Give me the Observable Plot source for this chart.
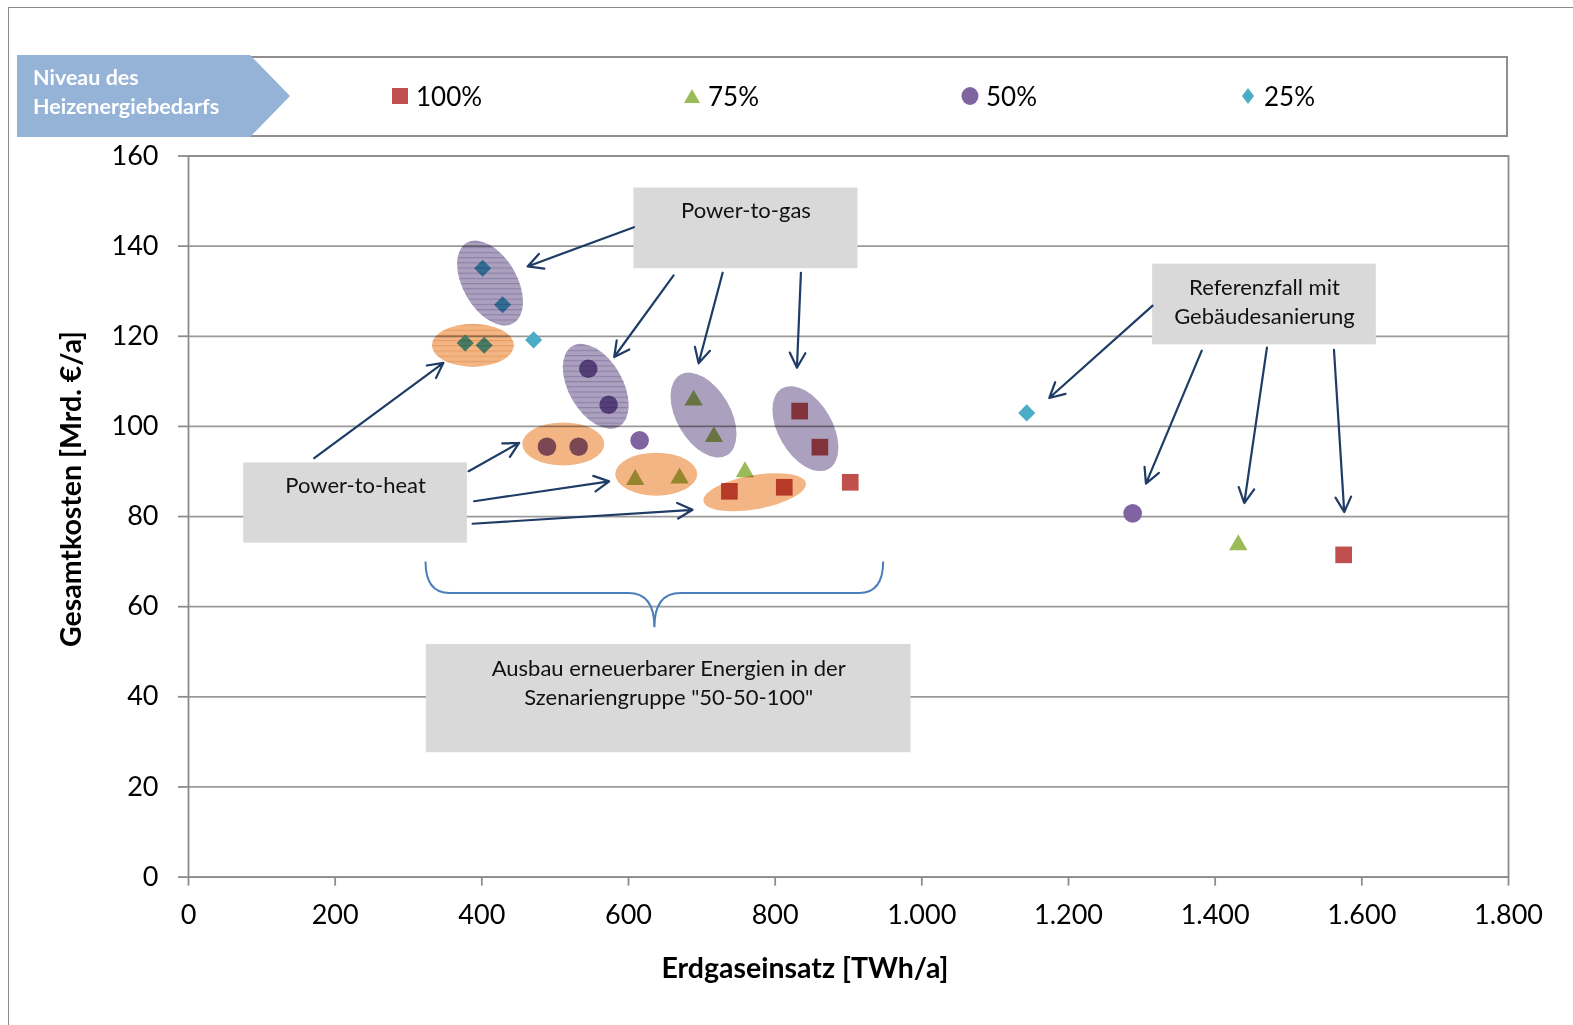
<!DOCTYPE html>
<html><head><meta charset="utf-8">
<script src="https://cdn.jsdelivr.net/npm/d3@7"></script>
<script src="https://cdn.jsdelivr.net/npm/@observablehq/plot@0.6"></script>
<style>
html,body{margin:0;padding:0;background:#fff;}
body{width:1573px;height:1025px;overflow:hidden;position:relative;font-family:Lato,"Open Sans",sans-serif;color:#000;}
#frame{position:absolute;left:8px;top:7px;width:1620px;height:1100px;border:1px solid #8a8a8a;box-sizing:border-box;pointer-events:none;}
#legend{position:absolute;left:0;top:0;width:1573px;height:140px;}
#legbox{position:absolute;left:249px;top:56px;width:1259px;height:81px;border:2px solid #8e8e8e;box-sizing:border-box;}
#legshape{position:absolute;left:0;top:0;}
#legtitle{position:absolute;left:33px;top:63px;color:#fff;font-weight:bold;font-size:21.5px;line-height:29px;}
.item{position:absolute;top:80px;height:32px;display:flex;align-items:center;font-size:26px;white-space:nowrap;}
.item svg{margin-right:7px;}
#chart{position:absolute;left:0;top:140px;}
.title{position:absolute;font-weight:bold;font-size:28.5px;white-space:nowrap;}
</style></head>
<body>
<div id="legend">
  <div id="legbox"></div>
  <svg id="legshape" width="300" height="140"><polygon points="17,55 250,55 290,96 250,137 17,137" fill="#95B3D7"/></svg>
  <div id="legtitle">Niveau des<br>Heizenergiebedarfs</div>
</div>
<div id="chart"></div>
<div class="title" id="xtitle" style="left:805px;top:967px;transform:translate(-50%,-50%);">Erdgaseinsatz [TWh/a]</div>
<div class="title" id="ytitle" style="left:70px;top:489px;transform:translate(-50%,-50%) rotate(-90deg);">Gesamtkosten [Mrd. €/a]</div>
<div id="frame"></div>
<script>
// ---- data ----
const levels = ["100%", "75%", "50%", "25%"];
const gas100 = [737.6, 812.4, 902.4, 833.4, 861.0, 1575.2];
const cost100 = [85.6, 86.5, 87.6, 103.4, 95.4, 71.5];
const gas75 = [609.2, 669.7, 758.8, 688.8, 716.5, 1431.5];
const cost75 = [88.2, 88.5, 89.9, 105.8, 97.7, 73.7];
const gas50 = [488.8, 532.0, 615.2, 545.1, 572.9, 1287.5];
const cost50 = [95.5, 95.5, 96.9, 112.8, 104.8, 80.7];
const gas25 = [377.3, 403.2, 470.6, 401.1, 428.3, 1143.0];
const cost25 = [118.5, 118.0, 119.2, 135.1, 127.0, 103.0];

const xTicks = [0, 200, 400, 600, 800, 1000, 1200, 1400, 1600, 1800];
const xTickLabels = ["0", "200", "400", "600", "800", "1.000", "1.200", "1.400", "1.600", "1.800"];
const yTicks = [0, 20, 40, 60, 80, 100, 120, 140, 160];
const yTickLabels = ["0", "20", "40", "60", "80", "100", "120", "140", "160"];

// annotation boxes (data units)
const boxText = ["Power-to-gas", "Power-to-heat", "Referenzfall mit\nGebäudesanierung", "Ausbau erneuerbarer Energien in der\nSzenariengruppe \"50-50-100\""];
const boxX1 = [607.4, 75.3, 1314.7, 324.3];
const boxX2 = [912.9, 380.3, 1619.8, 985.3];
const boxY1 = [135.0, 74.1, 118.1, 27.6];
const boxY2 = [152.9, 91.9, 136.0, 51.6];
const boxTextY = [148.3, 87.3, 127.9, 43.5];

// arrows (data units)
const arrowX1 = [607.4, 661.5, 728.4, 835.1, 171.4, 382.0, 389.6, 387.4, 1314.7, 1381.7, 1470.6, 1562.0];
const arrowY1 = [144.2, 133.5, 134.1, 134.1, 92.95, 90.06, 83.4, 78.4, 126.8, 116.8, 117.5, 117.0];
const arrowX2 = [462.4, 580.5, 695.6, 829.7, 347.6, 450.9, 573.7, 687.4, 1173.7, 1305.6, 1439.7, 1576.0];
const arrowY2 = [135.5, 115.4, 114.0, 113.0, 114.1, 96.36, 87.8, 81.5, 106.3, 87.3, 83.0, 81.0];

// grouping ellipses (centres, data units)
const ellipseX = [411.9, 388.5, 556.0, 511.7, 703.0, 638.5, 841.9, 772.7];
const ellipseY = [131.7, 117.9, 108.8, 96.0, 102.4, 89.3, 99.4, 85.3];
const ellipseKind = ["gasH", "heatH", "gasH", "heat", "gas", "heat", "gas", "heatT"];

// brace (data units)
const braceX = [323.9, 636.0, 947.9];
const braceY = [69.9, 62.9, 55.3];

// ---- styles ----
const colors = {"100%": "#C0504D", "75%": "#9BBB59", "50%": "#8064A2", "25%": "#4BACC6"};
const symbols = {"100%": "square", "75%": "triangle", "50%": "circle", "25%": "diamond2"};
const radii = {"100%": 9.4, "75%": 6.8, "50%": 9.3, "25%": 7.7};

const gasArr = {"100%": gas100, "75%": gas75, "50%": gas50, "25%": gas25};
const costArr = {"100%": cost100, "75%": cost75, "50%": cost50, "25%": cost25};
const points = levels.flatMap(l => gasArr[l].map((g, i) => ({level: l, gas: g, cost: costArr[l][i]})));
const boxes = boxText.map((t, i) => ({text: t, x1: boxX1[i], x2: boxX2[i], y1: boxY1[i], y2: boxY2[i], ty: boxTextY[i]}));
const arrows = arrowX1.map((x, i) => ({x1: x, y1: arrowY1[i], x2: arrowX2[i], y2: arrowY2[i]}));

// ---- legend ----
const legendPos = {"100%": 400, "75%": 692, "50%": 970, "25%": 1248};
const legend = document.getElementById("legend");
function markerSvg(l) {
  const c = colors[l];
  let shape;
  if (l === "100%") shape = `<rect x="1" y="2" width="16" height="16" fill="${c}"/>`;
  else if (l === "75%") shape = `<polygon points="9,3 17,17 1,17" fill="${c}"/>`;
  else if (l === "50%") shape = `<ellipse cx="9" cy="10" rx="8.5" ry="9" fill="${c}"/>`;
  else shape = `<polygon points="9,2 15,10 9,18 3,10" fill="${c}"/>`;
  return `<svg width="18" height="20">${shape}</svg>`;
}
levels.forEach(l => {
  const d = document.createElement("div");
  d.className = "item";
  d.style.left = (legendPos[l] - 9) + "px";
  d.innerHTML = markerSvg(l) + `<span>${l}</span>`;
  legend.appendChild(d);
});

// ---- custom marks ----
const ellipseGeom = {
  gasH: {a: 46.5, b: 27, angle: 60, fill: "#ABA0BE", stripe: "#8E80A8"},
  gas: {a: 46.5, b: 27, angle: 60, fill: "#ABA0BE", stripe: null},
  heatH: {a: 41, b: 21.5, angle: 0, fill: "#F3B583", stripe: "#E89C62"},
  heat: {a: 41, b: 21.5, angle: 0, fill: "#F3B583", stripe: null},
  heatT: {a: 52, b: 17, angle: -10, fill: "#F3B583", stripe: null}
};
function ellipseMark(index, scales) {
  const g = d3.create("svg:g");
  const defs = g.append("defs");
  ellipseX.forEach((ex, i) => {
    const geo = ellipseGeom[ellipseKind[i]];
    const cx = scales.x(ex), cy = scales.y(ellipseY[i]);
    let fill = geo.fill;
    if (geo.stripe) {
      const id = "hatch" + i;
      const p = defs.append("pattern").attr("id", id).attr("patternUnits", "userSpaceOnUse")
        .attr("width", 10).attr("height", 5.2).attr("patternTransform", `rotate(${-geo.angle})`);
      p.append("rect").attr("width", 10).attr("height", 5.2).attr("fill", geo.fill);
      p.append("rect").attr("width", 10).attr("height", 1.1).attr("fill", geo.stripe);
      fill = `url(#${id})`;
    }
    g.append("ellipse").attr("cx", 0).attr("cy", 0).attr("rx", geo.a).attr("ry", geo.b)
      .attr("transform", `translate(${cx},${cy}) rotate(${geo.angle})`)
      .attr("fill", fill).style("mix-blend-mode", "multiply");
  });
  return g.node();
}
function braceMark(index, scales) {
  const xL = scales.x(braceX[0]), xC = scales.x(braceX[1]), xR = scales.x(braceX[2]);
  const yT = scales.y(braceY[0]), yL = scales.y(braceY[1]), yD = scales.y(braceY[2]);
  const path = `M${xL},${yT} Q${xL},${yL} ${xL + 24},${yL} L${xC - 26},${yL} Q${xC},${yL} ${xC},${yD} Q${xC},${yL} ${xC + 26},${yL} L${xR - 24},${yL} Q${xR},${yL} ${xR},${yT}`;
  const g = d3.create("svg:g");
  g.append("path").attr("d", path).attr("fill", "none").attr("stroke", "#4A7EBB").attr("stroke-width", 2);
  return g.node();
}

const plot = Plot.plot({
  width: 1573, height: 885,
  marginTop: 15.5, marginLeft: 188, marginRight: 65, marginBottom: 148.4,
  x: {domain: [0, 1800]},
  y: {domain: [0, 160]},
  style: {fontFamily: "Lato, 'Open Sans', sans-serif", fontSize: "27px", color: "#000", background: "transparent", overflow: "visible"},
  marks: [
    Plot.gridY({ticks: yTicks, stroke: "#999", strokeOpacity: 1, strokeWidth: 1.8}),
    Plot.frame({stroke: "#8c8c8c", strokeWidth: 1.8}),
    Plot.axisX({ticks: xTicks, tickSize: 9, tickPadding: 19, tickFormat: d => xTickLabels[xTicks.indexOf(d)], stroke: "#8c8c8c", strokeWidth: 1.8, label: null, fontSize: 27}),
    Plot.axisY({ticks: yTicks, tickSize: 10, tickPadding: 20, tickFormat: d => yTickLabels[yTicks.indexOf(d)], stroke: "#8c8c8c", strokeWidth: 1.8, label: null, fontSize: 27}),
    Plot.rect(boxes, {x1: "x1", x2: "x2", y1: "y1", y2: "y2", fill: "#D9D9D9"}),
    ...levels.map(l => Plot.dot(points.filter(p => p.level === l), {x: "gas", y: "cost", symbol: symbols[l], r: radii[l], fill: colors[l]})),
    ellipseMark,
    Plot.arrow(arrows, {x1: "x1", y1: "y1", x2: "x2", y2: "y2", stroke: "#1F3C66", strokeWidth: 2.2, headLength: 11.5, headAngle: 55}),
    braceMark,
    Plot.text(boxes, {x: d => (d.x1 + d.x2) / 2, y: "ty", text: "text", fontSize: 22, lineHeight: 1.32, fill: "#111", lineAnchor: "middle"})
  ]
});
document.getElementById("chart").appendChild(plot);
</script>
</body></html>
